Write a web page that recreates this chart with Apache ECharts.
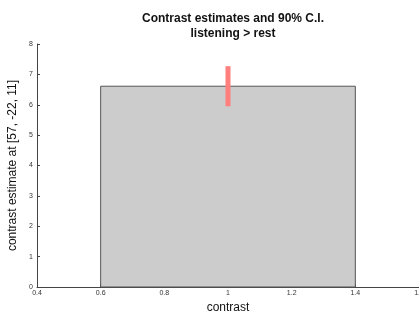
<!DOCTYPE html>
<html style="height: 100%">
<head>
    <meta charset="utf-8">
    <title>contrast estimates</title>
    <script src="https://cdn.jsdelivr.net/npm/echarts@6/dist/echarts.min.js"></script>
</head>
<body style="height: 100%; margin: 0; background: #fff">
    <div id="main" style="width: 419px; height: 318px"></div>
    <script type="text/javascript">
        // data
        var contrasts = [1];
        var halfWidth = [0.4];
        var estimates = [6.61];
        var ciLow = [5.95];
        var ciHigh = [7.27];
        var xTicks = [0.4, 0.6, 0.8, 1, 1.2, 1.4, 1.6];
        var yTicks = [0, 1, 2, 3, 4, 5, 6, 7, 8];

        var rows = contrasts.map(function (c, i) {
            return [c, estimates[i], halfWidth[i], ciLow[i], ciHigh[i]];
        });

        var myChart = echarts.init(document.getElementById('main'));

        var tickFont = { fontFamily: 'Liberation Sans, Arial', fontSize: 7, color: '#333' };

        var option = {
            animation: false,
            title: {
                text: 'Contrast estimates and 90% C.I.\nlistening > rest',
                left: 228,
                top: 6,
                textAlign: 'center',
                textStyle: { fontFamily: 'Liberation Sans, Arial', fontSize: 12, fontWeight: 'bold', color: '#111', lineHeight: 15 }
            },
            grid: { left: 37, right: 0, top: 44, bottom: 31, outerBoundsMode: 'none', containLabel: false },
            xAxis: {
                type: 'value',
                min: xTicks[0],
                max: xTicks[xTicks.length - 1],
                interval: 0.2,
                name: 'contrast',
                nameLocation: 'middle',
                nameGap: 14,
                nameTextStyle: { fontFamily: 'Liberation Sans, Arial', fontSize: 12, color: '#111' },
                axisLine: { lineStyle: { color: '#444', width: 1 } },
                axisTick: { show: true, inside: true, length: 3, lineStyle: { color: '#444' } },
                axisLabel: Object.assign({ margin: 3, hideOverlap: false, formatter: function (v) { return String(+v.toFixed(1)); } }, tickFont),
                splitLine: { show: false }
            },
            yAxis: {
                type: 'value',
                min: yTicks[0],
                max: yTicks[yTicks.length - 1],
                interval: 1,
                name: 'contrast estimate at [57, -22, 11]',
                nameLocation: 'middle',
                nameGap: 11,
                nameTextStyle: { fontFamily: 'Liberation Sans, Arial', fontSize: 12, color: '#111' },
                axisLine: { show: true, lineStyle: { color: '#444', width: 1 } },
                axisTick: { show: true, inside: true, length: 3, lineStyle: { color: '#444' } },
                axisLabel: Object.assign({ margin: 4 }, tickFont),
                splitLine: { show: false }
            },
            series: [{
                type: 'custom',
                data: rows,
                renderItem: function (params, api) {
                    var c = api.value(0), v = api.value(1), hw = api.value(2);
                    var p0 = api.coord([c - hw, v]);
                    var p1 = api.coord([c + hw, 0]);
                    var lo = api.coord([c, api.value(3)]);
                    var hi = api.coord([c, api.value(4)]);
                    return {
                        type: 'group',
                        children: [{
                            type: 'rect',
                            shape: { x: p0[0], y: p0[1], width: p1[0] - p0[0], height: p1[1] - p0[1] },
                            style: { fill: '#cccccc', stroke: '#555', lineWidth: 1 }
                        }, {
                            type: 'line',
                            shape: { x1: lo[0], y1: lo[1], x2: hi[0], y2: hi[1] },
                            style: { stroke: '#ff7f7f', lineWidth: 5 }
                        }]
                    };
                }
            }]
        };
        myChart.setOption(option);
    </script>
</body>
</html>
